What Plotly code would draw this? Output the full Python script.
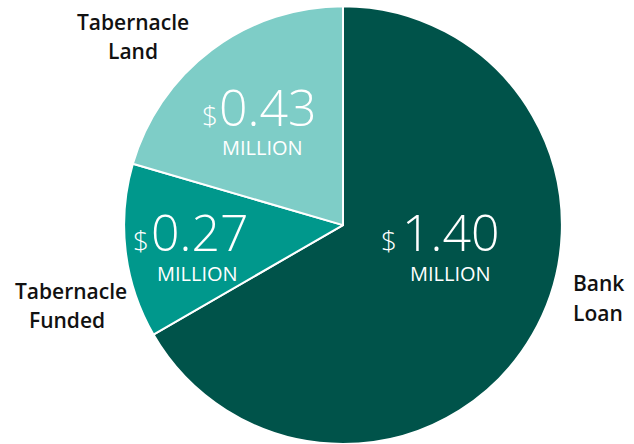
import plotly.graph_objects as go

# data
labels = ["Bank Loan", "Tabernacle Funded", "Tabernacle Land"]
values = [1.40, 0.27, 0.43]
colors = ["#00534a", "#00988c", "#7ecdc7"]
amounts = ["1.40", "0.27", "0.43"]
label_lines = [["Bank", "Loan"], ["Tabernacle", "Funded"], ["Tabernacle", "Land"]]

W, H = 634, 444

fig = go.Figure(go.Pie(
    labels=labels,
    values=values,
    sort=False,
    direction="clockwise",
    rotation=0,
    marker=dict(colors=colors, line=dict(color="white", width=2)),
    textinfo="none",
    hoverinfo="label+value",
    domain=dict(x=[123 / W, 563 / W], y=[0.0, 0.986]),
    showlegend=False,
))


def px(x, y):
    return x / W, 1 - y / H


# inside labels: (number centre x, number middle y, $ centre x, MILLION centre x, MILLION y)
inside = [
    (451, 232, 389, 450, 273),
    (200, 232, 141, 197, 273),
    (268, 107, 210, 262, 148),
]
num_font = dict(family="Open Sans", size=50, color="white", weight=300)
small_font = dict(family="Open Sans", size=28, color="white", weight=300)
mil_font = dict(family="Open Sans", size=20, color="white")

annotations = []
for amt, (nx, ny, dx, mx, my) in zip(amounts, inside):
    x, y = px(nx, ny)
    annotations.append(dict(text=amt, x=x, y=y, font=num_font))
    x, y = px(dx, ny + 8)
    annotations.append(dict(text="$", x=x, y=y, font=small_font))
    x, y = px(mx, my)
    annotations.append(dict(text="MILLION", x=x, y=y, font=mil_font))

# outside labels, one annotation per line: [(x, y), (x, y)]
outside = [
    [(598, 282.5), (598, 312.5)],
    [(70.5, 291), (67, 320)],
    [(133, 21.5), (132.5, 51)],
]
lab_font = dict(family="Open Sans", size=21, color="#111111", weight=600)
for lines, pos in zip(label_lines, outside):
    for line, (ox, oy) in zip(lines, pos):
        x, y = px(ox, oy)
        annotations.append(dict(text=line, x=x, y=y, font=lab_font))

for a in annotations:
    a.update(xref="paper", yref="paper", showarrow=False,
             xanchor="center", yanchor="middle")

fig.update_layout(
    width=W,
    height=H,
    margin=dict(l=0, r=0, t=0, b=0),
    paper_bgcolor="white",
    plot_bgcolor="white",
    annotations=annotations,
)

fig.write_html("out.html", config={"displayModeBar": False},
               post_script="document.body.style.margin='0';")
